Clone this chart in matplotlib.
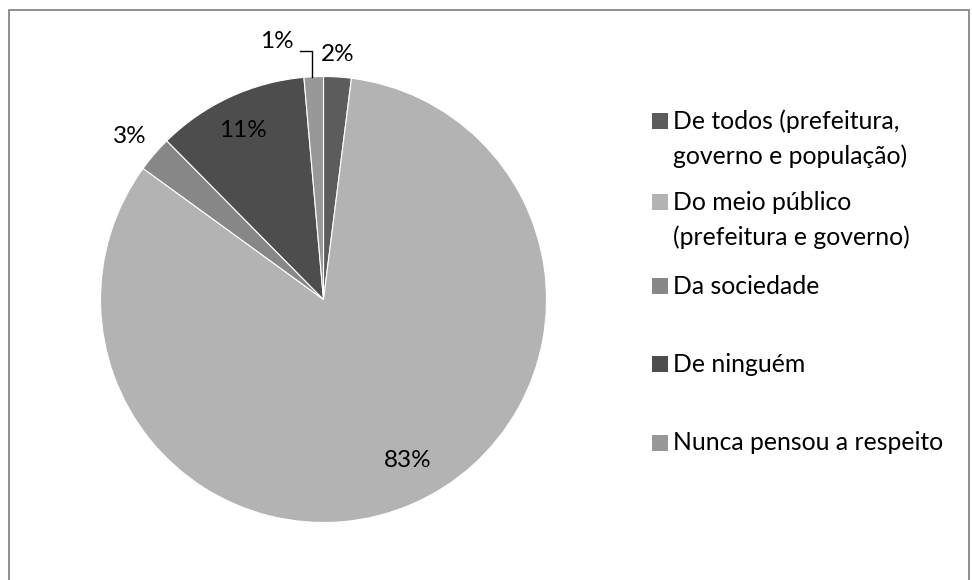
import matplotlib.pyplot as plt
from matplotlib.patches import Rectangle

plt.rcParams['font.family'] = ['Lato', 'DejaVu Sans']

# data
categories = ['De todos (prefeitura,\ngoverno e população)',
              'Do meio público\n(prefeitura e governo)',
              'Da sociedade',
              'De ninguém',
              'Nunca pensou a respeito']
values = [2.0, 83.0, 2.6, 11.0, 1.4]
colors = ['#5c5c5c', '#b3b3b3', '#878787', '#4d4d4d', '#989898']

# label positions (pie data coords, radius = 1)
label_pos = [(0.065, 1.097), (0.379, -0.724), (-0.868, 0.733),
             (-0.361, 0.756), (-0.209, 1.155)]
# legend rows (figure pixel y of first line, from top)
legend_y = [121, 202, 286, 364, 443]

W, H = 972, 580
fig = plt.figure(figsize=(W / 100, H / 100), dpi=100)

# outer border
fig.patches.append(Rectangle((8.5 / W, -0.05), (969 - 8.5) / W, 1.05 - 10.5 / H,
                             transform=fig.transFigure, fill=False,
                             edgecolor='#878787', linewidth=1.3))

cx, cy, r = 323.5, 299.5, 223
ax = fig.add_axes([(cx - r) / W, (H - cy - r) / H, 2 * r / W, 2 * r / H])
wedges, _ = ax.pie(values, colors=colors, startangle=90, counterclock=False,
                   wedgeprops=dict(edgecolor='white', linewidth=0.8))
ax.set_xlim(-1, 1)
ax.set_ylim(-1, 1)
ax.set_aspect('equal')

for v, (x, y) in zip(values, label_pos):
    ax.text(x, y, '%.0f%%' % v, ha='center', va='center', fontsize=17.5,
            color='black')

# leader line for the 1% slice
ax.plot([-0.052, -0.052, -0.105], [0.998, 1.114, 1.114], color='black',
        linewidth=1.0, clip_on=False)

# legend
for cat, col, ly in zip(categories, colors, legend_y):
    fig.patches.append(Rectangle((652 / W, (H - ly - 8) / H), 16 / W, 16 / H,
                                 transform=fig.transFigure, facecolor=col,
                                 edgecolor='none'))
    for i, line in enumerate(cat.split('\n')):
        fig.text(673 / W, (H - ly - i * 35) / H, line, ha='left',
                 va='center', fontsize=17.8)

fig.savefig('out.png', dpi=100)
